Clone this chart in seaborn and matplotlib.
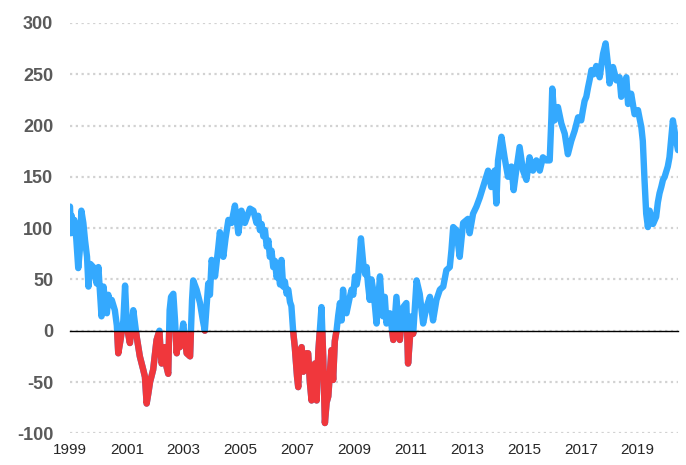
import matplotlib
matplotlib.use("Agg")
import matplotlib.pyplot as plt
import pandas as pd
import seaborn as sns
from matplotlib.patches import Rectangle

# values (decimal year, index value)
years = [
    1999.00, 1999.03, 1999.06, 1999.10, 1999.15, 1999.22, 1999.29, 1999.35, 1999.40, 1999.47,
    1999.53, 1999.60, 1999.65, 1999.72, 1999.82, 1999.94, 2000.00, 2000.06, 2000.11, 2000.18,
    2000.23, 2000.30, 2000.35, 2000.42, 2000.47, 2000.58, 2000.65, 2000.70, 2000.78, 2000.88,
    2000.94, 2001.00, 2001.05, 2001.11, 2001.23, 2001.35, 2001.46, 2001.58, 2001.64, 2001.70,
    2001.76, 2001.82, 2001.93, 2002.05, 2002.15, 2002.19, 2002.23, 2002.35, 2002.40, 2002.46,
    2002.51, 2002.56, 2002.64, 2002.70, 2002.76, 2002.81, 2002.87, 2002.99, 2003.11, 2003.23,
    2003.30, 2003.34, 2003.46, 2003.58, 2003.68, 2003.75, 2003.87, 2003.93, 2003.99, 2004.11,
    2004.22, 2004.28, 2004.40, 2004.48, 2004.58, 2004.69, 2004.81, 2004.93, 2005.04, 2005.16,
    2005.34, 2005.46, 2005.57, 2005.63, 2005.69, 2005.75, 2005.81, 2005.87, 2005.93, 2005.99,
    2006.04, 2006.10, 2006.16, 2006.22, 2006.28, 2006.34, 2006.40, 2006.45, 2006.51, 2006.57,
    2006.63, 2006.69, 2006.75, 2006.80, 2006.86, 2006.92, 2007.00, 2007.04, 2007.10, 2007.16,
    2007.22, 2007.27, 2007.33, 2007.39, 2007.45, 2007.51, 2007.57, 2007.63, 2007.69, 2007.75,
    2007.80, 2007.86, 2007.92, 2007.98, 2008.04, 2008.10, 2008.16, 2008.21, 2008.27, 2008.33,
    2008.39, 2008.45, 2008.51, 2008.57, 2008.62, 2008.68, 2008.74, 2008.80, 2008.86, 2008.92,
    2008.98, 2009.04, 2009.10, 2009.15, 2009.25, 2009.33, 2009.40, 2009.45, 2009.50, 2009.56,
    2009.62, 2009.68, 2009.74, 2009.80, 2009.86, 2009.92, 2009.98, 2010.03, 2010.09, 2010.15,
    2010.27, 2010.39, 2010.50, 2010.62, 2010.74, 2010.85, 2010.91, 2011.03, 2011.09, 2011.21,
    2011.32, 2011.44, 2011.56, 2011.68, 2011.79, 2011.91, 2012.03, 2012.15, 2012.26, 2012.38,
    2012.44, 2012.50, 2012.61, 2012.73, 2012.85, 2013.02, 2013.08, 2013.20, 2013.32, 2013.44,
    2013.55, 2013.73, 2013.84, 2013.96, 2014.02, 2014.08, 2014.20, 2014.31, 2014.43, 2014.55,
    2014.63, 2014.72, 2014.84, 2014.96, 2015.08, 2015.19, 2015.31, 2015.43, 2015.55, 2015.66,
    2015.78, 2015.90, 2015.96, 2015.99, 2016.07, 2016.19, 2016.31, 2016.43, 2016.54, 2016.66,
    2016.78, 2016.90, 2017.01, 2017.07, 2017.13, 2017.19, 2017.25, 2017.31, 2017.37, 2017.45,
    2017.54, 2017.66, 2017.78, 2017.87, 2017.95, 2018.01, 2018.13, 2018.25, 2018.36, 2018.42,
    2018.60, 2018.66, 2018.77, 2018.89, 2019.01, 2019.13, 2019.18, 2019.24, 2019.30, 2019.36,
    2019.42, 2019.54, 2019.65, 2019.71, 2019.77, 2019.83, 2019.89, 2019.95, 2020.06, 2020.12,
    2020.24, 2020.33, 2020.42,
]
values = [
    121, 95, 112, 100, 108, 90, 61, 80, 117, 105,
    88, 72, 43, 65, 62, 46, 62, 35, 14, 43,
    30, 17, 35, 25, 30, 20, 5, -22, -9, 10,
    44, 7, -3, -12, 20, -6, -25, -38, -45, -71,
    -61, -50, -38, -9, 0, -20, -32, -16, -35, -42,
    20, 33, 36, 10, -22, -3, -16, 7, -22, -25,
    30, 49, 40, 27, 10, 0, 46, 35, 69, 53,
    80, 96, 72, 90, 108, 105, 122, 95, 117, 105,
    119, 117, 105, 112, 98, 104, 92, 98, 82, 88,
    72, 78, 62, 68, 52, 58, 45, 69, 43, 48,
    36, 40, 28, 24, 0, -16, -45, -55, -20, -16,
    -40, -32, -22, -22, -50, -68, -40, -32, -68, -20,
    0, 23, -25, -90, -70, -64, -40, -19, -48, -10,
    0, 15, 27, 10, 40, 20, 17, 25, 33, 40,
    35, 53, 45, 53, 90, 66, 55, 62, 45, 30,
    50, 40, 25, 7, 30, 53, 27, 14, 33, 7,
    17, -9, 33, -9, 23, 27, -32, 14, -3, 49,
    36, 7, 23, 33, 10, 30, 40, 43, 59, 62,
    79, 101, 98, 72, 105, 109, 95, 114, 121, 130,
    140, 156, 140, 156, 124, 166, 189, 169, 150, 160,
    137, 156, 179, 156, 147, 169, 156, 166, 156, 169,
    166, 166, 208, 236, 205, 218, 202, 192, 172, 185,
    195, 208, 205, 215, 224, 228, 237, 245, 254, 250,
    258, 247, 270, 280, 260, 241, 257, 244, 247, 228,
    247, 221, 231, 211, 215, 198, 185, 147, 114, 101,
    117, 104, 111, 125, 134, 140, 147, 150, 160, 169,
    205, 189, 176,
]
x_ticks = [1999, 2001, 2003, 2005, 2007, 2009, 2011, 2013, 2015, 2017, 2019]
y_ticks = [-100, -50, 0, 50, 100, 150, 200, 250, 300]

BLUE = "#34a9fe"
RED = "#f0373c"
TEXT = "#5a5a5a"

sns.set_theme(style="white")
plt.rcParams["font.family"] = ["Liberation Sans", "DejaVu Sans"]

df = pd.DataFrame({"year": years, "value": values})

fig = plt.figure(figsize=(6.86, 4.65), dpi=100)
ax = fig.add_axes([70 / 686, 1 - 433.3 / 465, 608 / 686, 410.4 / 465])

line_kw = dict(lw=4.6, sort=False, estimator=None, solid_capstyle="round",
               solid_joinstyle="round", ax=ax)
sns.lineplot(data=df, x="year", y="value", color=BLUE, **line_kw)
sns.lineplot(data=df, x="year", y="value", color=RED, **line_kw)
# red only below zero
ax.lines[-1].set_clip_path(Rectangle((1990, -500), 50, 500, transform=ax.transData))

ax.set_xlim(1999, 2020.42)
ax.set_ylim(-100, 300)
ax.set_xticks(x_ticks)
ax.set_xticklabels([str(t) for t in x_ticks], fontweight="bold", fontsize=13, color=TEXT)
ax.set_yticks(y_ticks)
ax.set_yticklabels([str(t) for t in y_ticks], fontweight="bold", fontsize=13, color=TEXT)
ax.set_xlabel("")
ax.set_ylabel("")

ax.set_axisbelow(True)
ax.yaxis.grid(True, linestyle=(0, (1, 1.6)), color="#d2d2d2", lw=1.6)
ax.xaxis.grid(False)

for s in ["left", "right", "top"]:
    ax.spines[s].set_visible(False)
ax.spines["bottom"].set_position(("data", 0))
ax.spines["bottom"].set_color("black")
ax.spines["bottom"].set_linewidth(1.0)
ax.spines["bottom"].set_zorder(5)

ax.tick_params(axis="x", length=3, width=1, color="#cccccc", direction="out", pad=78)
ax.tick_params(axis="y", length=0, pad=12)

fig.savefig("out.png", dpi=100)
